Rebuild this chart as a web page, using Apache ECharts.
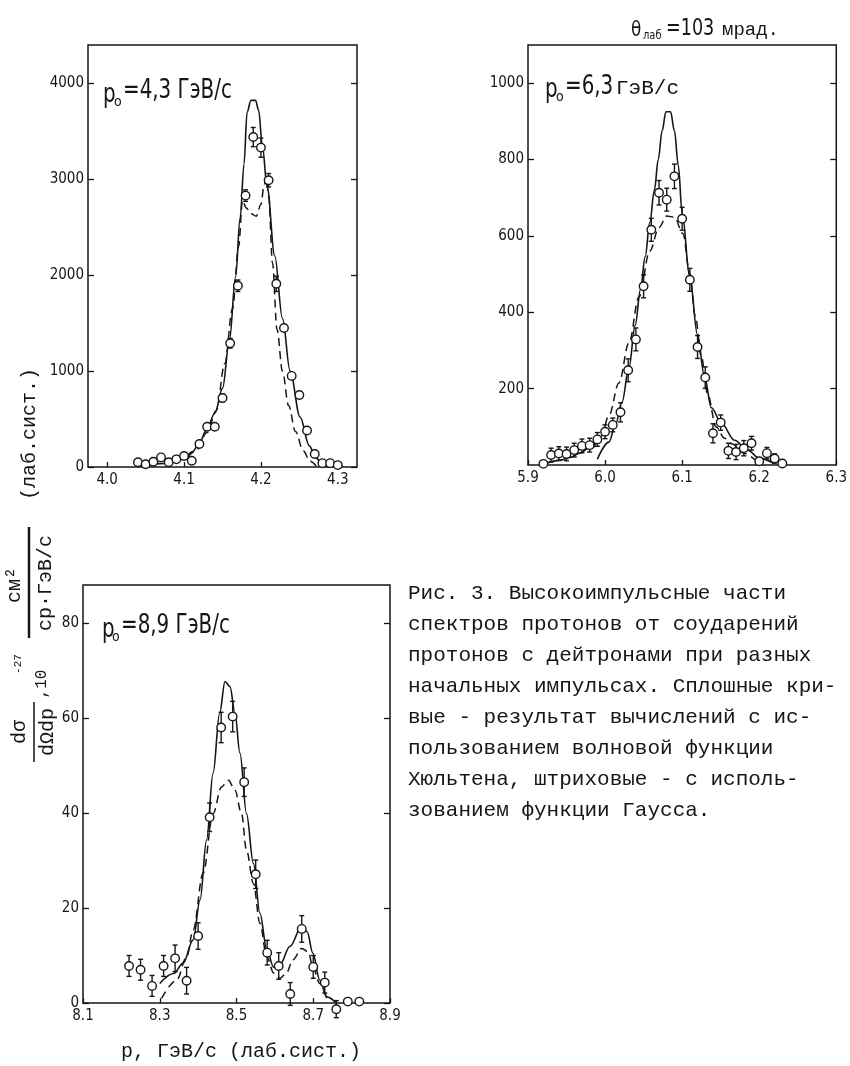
<!DOCTYPE html>
<html>
<head>
<meta charset="utf-8">
<script src="https://cdn.jsdelivr.net/npm/echarts@6/dist/echarts.min.js"></script>
<style>
html, body { margin: 0; background: #fff; }
#main { width: 850px; height: 1066px; }
</style>
</head>
<body>
<div id="main"></div>
<script>
// ---- panel 1 : p0 = 4,3 GeV/c ----
var p1X = [4.04, 4.05, 4.06, 4.07, 4.08, 4.09, 4.10, 4.11, 4.12, 4.13, 4.14, 4.15, 4.16, 4.17,
           4.18, 4.19, 4.20, 4.21, 4.22, 4.23, 4.24, 4.25, 4.26, 4.27, 4.28, 4.29, 4.30];
var p1Y = [50, 28, 55, 100, 50, 80, 115, 65, 240, 420, 420, 720, 1290, 1890,
           2830, 3440, 3330, 2990, 1910, 1450, 950, 750, 380, 135, 40, 40, 20];
var p1Err = [0, 0, 0, 0, 0, 0, 0, 0, 0, 0, 0, 40, 50, 60,
             60, 100, 100, 70, 80, 0, 0, 0, 0, 0, 0, 0, 0];
var p1Solid = [[4.04, 20], [4.07, 35], [4.09, 55], [4.10, 90], [4.111, 160], [4.12, 250], [4.129, 385],
               [4.14, 560], [4.15, 820], [4.159, 1320], [4.167, 1980], [4.173, 2600], [4.178, 3160],
               [4.182, 3700], [4.187, 3823], [4.193, 3823], [4.197, 3720], [4.202, 3340], [4.208, 2920],
               [4.218, 2200], [4.228, 1550], [4.238, 1000], [4.251, 520], [4.263, 220], [4.271, 100],
               [4.28, 30], [4.292, 3]];
var p1Dash = [[4.105, 100], [4.115, 170], [4.13, 360], [4.142, 590], [4.153, 1080], [4.163, 1650],
              [4.171, 2300], [4.176, 2780], [4.181, 2700], [4.187, 2640], [4.194, 2615], [4.200, 2740],
              [4.204, 2930], [4.207, 3020], [4.210, 2850], [4.215, 2130], [4.221, 1430], [4.228, 1000],
              [4.236, 640], [4.245, 370], [4.255, 170], [4.264, 60], [4.272, 10]];

// ---- panel 2 : p0 = 6,3 GeV/c ----
var p2X = [5.92, 5.93, 5.94, 5.95, 5.96, 5.97, 5.98, 5.99, 6.00, 6.01, 6.02, 6.03, 6.04, 6.05, 6.06, 6.07,
           6.08, 6.09, 6.10, 6.11, 6.12, 6.13, 6.14, 6.15, 6.16, 6.17, 6.18, 6.19, 6.20, 6.21, 6.22, 6.23];
var p2Y = [3, 26, 30, 29, 39, 50, 52, 67, 87, 105, 138, 248, 329, 468, 616, 713,
           695, 756, 645, 485, 309, 229, 83, 111, 37, 34, 44, 57, 10, 31, 17, 4];
var p2Err = [0, 18, 18, 18, 18, 18, 18, 18, 18, 18, 25, 30, 30, 30, 30, 32,
             30, 32, 30, 30, 30, 28, 25, 20, 20, 20, 20, 18, 0, 15, 12, 0];
var p2Solid = [[5.99, 15], [6.005, 60], [6.014, 109], [6.022, 165], [6.031, 255], [6.039, 365],
               [6.046, 460], [6.052, 545], [6.058, 635], [6.064, 720], [6.069, 800], [6.074, 875],
               [6.079, 925], [6.085, 925], [6.090, 875], [6.095, 785], [6.100, 660], [6.11, 490],
               [6.12, 340], [6.129, 231], [6.138, 150], [6.151, 109], [6.168, 65], [6.185, 39],
               [6.20, 18], [6.22, 3]];
var p2SolidTail = [[5.925, 5], [5.94, 12], [5.955, 20], [5.967, 31], [5.984, 52], [5.995, 72]];
var p2Dash = [[5.985, 45], [5.995, 75], [6.005, 130], [6.018, 215], [6.031, 320], [6.044, 440],
              [6.058, 560], [6.07, 622], [6.08, 652], [6.09, 649], [6.101, 606], [6.11, 501], [6.117, 390],
              [6.125, 283], [6.133, 187], [6.144, 100], [6.155, 70], [6.165, 55], [6.18, 31], [6.197, 9]];

// ---- panel 3 : p0 = 8,9 GeV/c ----
var p3X = [8.22, 8.25, 8.28, 8.31, 8.34, 8.37, 8.40, 8.43, 8.46, 8.49, 8.52,
           8.55, 8.58, 8.61, 8.64, 8.67, 8.70, 8.73, 8.76, 8.79, 8.82];
var p3Y = [7.8, 7.0, 3.6, 7.8, 9.4, 4.7, 14.1, 39.1, 58.0, 60.3, 46.5,
           27.1, 10.6, 7.8, 1.9, 15.6, 7.6, 4.3, -1.3, 0.3, 0.3];
var p3Err = [2.2, 2.2, 2.2, 2.2, 2.8, 2.8, 2.8, 3, 3.2, 3.2, 3,
             3, 2.6, 2.8, 2.4, 2.8, 2.4, 2.2, 1.8, 0, 0];
var p3Solid = [[8.300, 4.1], [8.336, 6.2], [8.361, 8.4], [8.387, 13.3], [8.405, 21.7], [8.422, 34.3],
               [8.439, 48.4], [8.456, 61], [8.470, 67.7], [8.483, 66.6], [8.496, 61], [8.509, 52.6],
               [8.526, 39.9], [8.544, 29.4], [8.561, 18.9], [8.579, 11.2], [8.597, 7.5], [8.613, 8],
               [8.639, 11.9], [8.670, 16.1], [8.684, 15], [8.699, 10.5], [8.717, 4.8], [8.735, 1.3], [8.760, 0]];
var p3Dash = [[8.305, 1], [8.344, 4.8], [8.370, 9.7], [8.387, 15.4], [8.413, 27.3], [8.439, 39.9],
              [8.461, 45.5], [8.479, 46.9], [8.496, 44.8], [8.513, 39.9], [8.526, 32.2], [8.544, 25.2],
              [8.561, 16.8], [8.579, 9.7], [8.597, 6.3], [8.613, 5.2], [8.630, 6.3], [8.647, 9.1],
              [8.670, 11.5], [8.687, 10.8], [8.699, 7.6], [8.717, 4.1], [8.735, 1]];

// tick values
var p1XTicks = [4.0, 4.1, 4.2, 4.3];
var p1YTicks = [0, 1000, 2000, 3000, 4000];
var p2XTicks = [5.9, 6.0, 6.1, 6.2, 6.3];
var p2YTicks = [200, 400, 600, 800, 1000];
var p3XTicks = [8.1, 8.3, 8.5, 8.7, 8.9];
var p3YTicks = [0, 20, 40, 60, 80];

var caption = [
    'Рис. 3. Высокоимпульсные части',
    'спектров протонов от соударений',
    'протонов с дейтронами при разных',
    'начальных импульсах. Сплошные кри-',
    'вые - результат вычислений с ис-',
    'пользованием волновой функции',
    'Хюльтена, штриховые - с исполь-',
    'зованием функции Гаусса.'
];

var INK = '#161616';
var NARROW = "'Liberation Sans Narrow','DejaVu Sans Condensed','Liberation Sans',sans-serif";
var MONO = "'Liberation Mono','DejaVu Sans Mono',monospace";

function pairs(xs, ys) {
    return xs.map(function (x, i) { return [x, ys[i]]; });
}
function errData(xs, ys, es) {
    var out = [];
    for (var i = 0; i < xs.length; i++) {
        if (es[i] > 0) out.push([xs[i], ys[i] - es[i], ys[i] + es[i]]);
    }
    return out;
}
function renderErr(params, api) {
    var hi = api.coord([api.value(0), api.value(2)]);
    var lo = api.coord([api.value(0), api.value(1)]);
    var st = { stroke: INK, lineWidth: 1.4 };
    return {
        type: 'group',
        children: [
            { type: 'line', shape: { x1: hi[0], y1: hi[1], x2: lo[0], y2: lo[1] }, style: st },
            { type: 'line', shape: { x1: hi[0] - 2.5, y1: hi[1], x2: hi[0] + 2.5, y2: hi[1] }, style: st },
            { type: 'line', shape: { x1: lo[0] - 2.5, y1: lo[1], x2: lo[0] + 2.5, y2: lo[1] }, style: st }
        ]
    };
}

function xAx(g, min, max, ticks) {
    return {
        type: 'value', gridIndex: g, min: min, max: max,
        axisLine: { show: false }, splitLine: { show: false },
        axisTick: { inside: true, length: 5, customValues: ticks, lineStyle: { color: INK, width: 1.3 } },
        axisLabel: {
            customValues: ticks, color: INK, fontFamily: NARROW, fontSize: 15, margin: 6,
            formatter: function (v) { return v.toFixed(1); }
        }
    };
}
function yAx(g, max, ticks, right) {
    return {
        type: 'value', gridIndex: g, min: 0, max: max, position: right ? 'right' : 'left',
        axisLine: { show: false }, splitLine: { show: false },
        axisTick: { inside: true, length: 6, customValues: ticks, lineStyle: { color: INK, width: 1.3 } },
        axisLabel: {
            show: !right, customValues: ticks, color: INK, fontFamily: NARROW, fontSize: 15, margin: 4,
            formatter: function (v) { return String(v); }
        }
    };
}

function panelSeries(g, pts, errs, solids, dash) {
    var s = [];
    solids.forEach(function (d) {
        s.push({
            type: 'line', xAxisIndex: g, yAxisIndex: 2 * g, data: d, smooth: 0.35, smoothMonotone: 'x',
            symbol: 'none', lineStyle: { color: INK, width: 1.6 }, z: 3
        });
    });
    s.push({
        type: 'line', xAxisIndex: g, yAxisIndex: 2 * g, data: dash, smooth: 0.35, smoothMonotone: 'x',
        symbol: 'none', lineStyle: { color: INK, width: 1.5, type: [8, 5] }, z: 3
    });
    s.push({
        type: 'custom', xAxisIndex: g, yAxisIndex: 2 * g, data: errs, renderItem: renderErr,
        encode: { x: 0, y: [1, 2] }, z: 4, clip: false
    });
    s.push({
        type: 'scatter', xAxisIndex: g, yAxisIndex: 2 * g, data: pts, symbol: 'circle', symbolSize: 8.5,
        itemStyle: { color: '#fff', borderColor: INK, borderWidth: 1.4, opacity: 1 }, z: 5, clip: false
    });
    return s;
}

function txt(x, y, text, font, extra) {
    var el = {
        type: 'text', x: x, y: y, z: 10,
        style: { text: text, font: font, fill: INK, align: 'left', verticalAlign: 'middle' }
    };
    if (extra) {
        for (var k in extra) {
            if (k === 'style') { for (var j in extra.style) el.style[j] = extra.style[j]; }
            else el[k] = extra[k];
        }
    }
    return el;
}
function vtxt(x, y, text, font) {
    return txt(x, y, text, font, { rotation: Math.PI / 2, style: { align: 'center' } });
}
function vline(x, y1, y2, w) {
    return { type: 'line', z: 10, shape: { x1: x, y1: y1, x2: x, y2: y2 }, style: { stroke: INK, lineWidth: w } };
}

var graphics = [];
// top label
graphics.push(txt(631, 30, 'θ', '22px ' + NARROW, { scaleX: 0.85 }));
graphics.push(txt(643, 36, 'лаб', '13px ' + NARROW, { scaleX: 0.85 }));
graphics.push(txt(666, 29, '=103', '23px ' + NARROW, { scaleX: 0.85 }));
graphics.push(txt(722, 30, 'мрад.', '19px ' + MONO));
// panel labels
graphics.push(txt(103, 95, 'p', '26px ' + NARROW, { scaleX: 0.85 }));
graphics.push(txt(114, 102, 'o', '14px ' + NARROW));
graphics.push(txt(123, 91, '=4,3 ГэВ/с', '26px ' + NARROW, { scaleX: 0.85 }));
graphics.push(txt(545, 90, 'p', '26px ' + NARROW, { scaleX: 0.85 }));
graphics.push(txt(556, 97, 'o', '14px ' + NARROW));
graphics.push(txt(565, 87, '=6,3', '26px ' + NARROW, { scaleX: 0.85 }));
graphics.push(txt(616, 88, 'ГэВ/с', '21px ' + MONO));
graphics.push(txt(102, 630, 'p', '26px ' + NARROW, { scaleX: 0.85 }));
graphics.push(txt(112, 637, 'o', '14px ' + NARROW));
graphics.push(txt(121, 626, '=8,9 ГэВ/с', '26px ' + NARROW, { scaleX: 0.85 }));
// x axis title
graphics.push(txt(241, 1052, 'p, ГэВ/с (лаб.сист.)', '20px ' + MONO, { style: { align: 'center' } }));
// y axis title (vertical)
graphics.push(vtxt(30, 434, '(лаб.сист.)', '20px ' + MONO));
graphics.push(vtxt(15, 585, 'см²', '20px ' + MONO));
graphics.push(vline(29, 527, 638, 2.5));
graphics.push(vtxt(46, 583, 'ср·ГэВ/с', '20px ' + MONO));
graphics.push(vtxt(42, 684, ',10', '16px ' + MONO));
graphics.push(vtxt(18, 664, '-27', '11px ' + MONO));
graphics.push(vtxt(20, 732, 'dσ', '20px ' + MONO));
graphics.push(vline(34, 702, 762, 1.5));
graphics.push(vtxt(48, 732, 'dΩdp', '20px ' + MONO));
// caption
caption.forEach(function (line, i) {
    graphics.push(txt(408, 593 + 31 * i, line, '21px ' + MONO));
});

var gridStyle = { show: true, borderColor: INK, borderWidth: 1.5, backgroundColor: 'transparent' };
var option = {
    animation: false,
    backgroundColor: '#fff',
    grid: [
        Object.assign({ left: 88, top: 45, width: 269, height: 422 }, gridStyle),
        Object.assign({ left: 528, top: 45, width: 313, height: 420 }, gridStyle),
        Object.assign({ left: 83, top: 585, width: 307, height: 418 }, gridStyle)
    ],
    xAxis: [
        xAx(0, 3.975, 4.325, p1XTicks),
        xAx(1, 5.9, 6.3, p2XTicks),
        xAx(2, 8.1, 8.9, p3XTicks)
    ],
    yAxis: [
        yAx(0, 4400, p1YTicks, false), yAx(0, 4400, p1YTicks, true),
        yAx(1, 1100, p2YTicks, false), yAx(1, 1100, p2YTicks, true),
        yAx(2, 88, p3YTicks, false), yAx(2, 88, p3YTicks, true)
    ],
    series: [].concat(
        panelSeries(0, pairs(p1X, p1Y), errData(p1X, p1Y, p1Err), [p1Solid], p1Dash),
        panelSeries(1, pairs(p2X, p2Y), errData(p2X, p2Y, p2Err), [p2Solid, p2SolidTail], p2Dash),
        panelSeries(2, pairs(p3X, p3Y), errData(p3X, p3Y, p3Err), [p3Solid], p3Dash)
    ),
    graphic: graphics
};

var myChart = echarts.init(document.getElementById('main'));
myChart.setOption(option);
</script>
</body>
</html>
